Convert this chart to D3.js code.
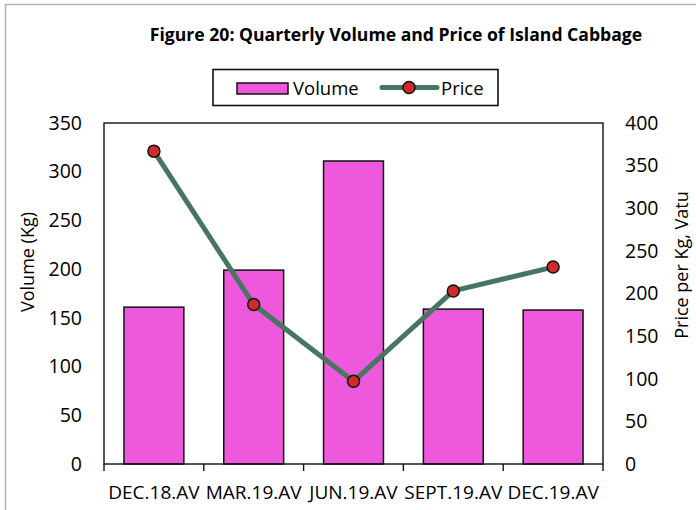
<!DOCTYPE html>
<html>
<head>
<meta charset="utf-8">
<script src="https://cdn.jsdelivr.net/npm/d3@7"></script>
<style>
  body { margin: 0; background: #fff; }
  svg text { font-family: "Open Sans", sans-serif; fill: #000; }
</style>
</head>
<body>
<div id="chart"></div>
<script>
// chart data
const quarters = ['DEC.18.AV', 'MAR.19.AV', 'JUN.19.AV', 'SEPT.19.AV', 'DEC.19.AV'];
const volume = [161, 199, 311, 159, 158];
const price = [367, 187, 97, 203, 231];
const volumeTicks = [0, 50, 100, 150, 200, 250, 300, 350];
const priceTicks = [0, 50, 100, 150, 200, 250, 300, 350, 400];

const width = 696, height = 510;
const margin = { top: 123, right: 93, bottom: 46, left: 104 };
const innerW = width - margin.left - margin.right;
const innerH = height - margin.top - margin.bottom;

const svg = d3.select('#chart').append('svg')
    .attr('width', width)
    .attr('height', height);

// outer grey frame (runs off the right/bottom of the picture)
svg.append('path')
    .attr('d', `M5.5,${height + 2}V4.5H${width + 2}`)
    .attr('fill', 'none')
    .attr('stroke', '#b4b4b4')
    .attr('stroke-width', 1.6);

// title
svg.append('text')
    .attr('x', 396)
    .attr('y', 41)
    .attr('text-anchor', 'middle')
    .style('font-weight', 'bold')
    .style('font-size', '17.6px')
    .text('Figure 20: Quarterly Volume and Price of Island Cabbage');

const g = svg.append('g')
    .attr('transform', `translate(${margin.left},${margin.top})`);

// scales
const x = d3.scaleBand().domain(quarters).range([0, innerW]).paddingInner(0.4).paddingOuter(0.2);
const yVol = d3.scaleLinear().domain([0, 350]).range([innerH, 0]);
const yPrice = d3.scaleLinear().domain([0, 400]).range([innerH, 0]);

// bars
g.selectAll('.bar')
    .data(volume)
    .join('rect')
    .attr('class', 'bar')
    .attr('x', (d, i) => x(quarters[i]))
    .attr('y', d => yVol(d))
    .attr('width', x.bandwidth())
    .attr('height', d => innerH - yVol(d))
    .attr('fill', '#ee58dc')
    .attr('stroke', '#111')
    .attr('stroke-width', 1.5);

// plot frame
g.append('rect')
    .attr('width', innerW)
    .attr('height', innerH)
    .attr('fill', 'none')
    .attr('stroke', '#111')
    .attr('stroke-width', 1.4);

// left axis
const leftAxis = g.append('g')
    .call(d3.axisLeft(yVol).tickValues(volumeTicks).tickSize(0).tickPadding(22));
leftAxis.select('.domain').remove();
leftAxis.selectAll('text').style('font-size', '19.5px').attr('fill', '#000');

// right axis
const rightAxis = g.append('g')
    .attr('transform', `translate(${innerW},0)`)
    .call(d3.axisRight(yPrice).tickValues(priceTicks).tickSize(0).tickPadding(22));
rightAxis.select('.domain').remove();
rightAxis.selectAll('text').style('font-size', '19.5px').attr('fill', '#000');

// bottom axis: labels centred under bars, ticks on category boundaries
const bottomAxis = g.append('g')
    .attr('transform', `translate(0,${innerH})`)
    .call(d3.axisBottom(x).tickSize(0).tickPadding(22));
bottomAxis.select('.domain').remove();
bottomAxis.selectAll('text').style('font-size', '19px').attr('fill', '#000');

const step = x.step();
g.selectAll('.xtick')
    .data(d3.range(quarters.length + 1))
    .join('line')
    .attr('class', 'xtick')
    .attr('x1', i => i * step)
    .attr('x2', i => i * step)
    .attr('y1', innerH)
    .attr('y2', innerH + 7)
    .attr('stroke', '#111')
    .attr('stroke-width', 1.4);

// price line
const line = d3.line()
    .x((d, i) => x(quarters[i]) + x.bandwidth() / 2)
    .y(d => yPrice(d));

g.append('path')
    .datum(price)
    .attr('d', line)
    .attr('fill', 'none')
    .attr('stroke', '#477660')
    .attr('stroke-width', 5)
    .attr('stroke-linejoin', 'round');

g.selectAll('.pt')
    .data(price)
    .join('circle')
    .attr('class', 'pt')
    .attr('cx', (d, i) => x(quarters[i]) + x.bandwidth() / 2)
    .attr('cy', d => yPrice(d))
    .attr('r', 6)
    .attr('fill', '#d02a2a')
    .attr('stroke', '#111')
    .attr('stroke-width', 1.5);

// axis titles
svg.append('text')
    .attr('transform', `translate(34,262) rotate(-90)`)
    .attr('text-anchor', 'middle')
    .style('font-size', '18px')
    .text('Volume (Kg)');

svg.append('text')
    .attr('transform', `translate(688,265) rotate(-90)`)
    .attr('text-anchor', 'middle')
    .style('font-size', '18px')
    .text('Price per Kg, Vatu');

// legend
const legend = svg.append('g');
legend.append('rect')
    .attr('x', 213).attr('y', 69.5)
    .attr('width', 285).attr('height', 36)
    .attr('fill', '#fff')
    .attr('stroke', '#111')
    .attr('stroke-width', 1.6);
legend.append('rect')
    .attr('x', 237).attr('y', 83)
    .attr('width', 51).attr('height', 11)
    .attr('fill', '#ee58dc')
    .attr('stroke', '#111')
    .attr('stroke-width', 1.5);
legend.append('text')
    .attr('x', 293).attr('y', 95)
    .style('font-size', '18.5px')
    .text('Volume');
legend.append('line')
    .attr('x1', 382).attr('x2', 437)
    .attr('y1', 87.5).attr('y2', 87.5)
    .attr('stroke', '#477660')
    .attr('stroke-width', 5)
    .attr('stroke-linecap', 'round');
legend.append('circle')
    .attr('cx', 409).attr('cy', 87.5).attr('r', 6)
    .attr('fill', '#d02a2a')
    .attr('stroke', '#111')
    .attr('stroke-width', 1.5);
legend.append('text')
    .attr('x', 441).attr('y', 95)
    .style('font-size', '18.5px')
    .text('Price');
</script>
</body>
</html>
